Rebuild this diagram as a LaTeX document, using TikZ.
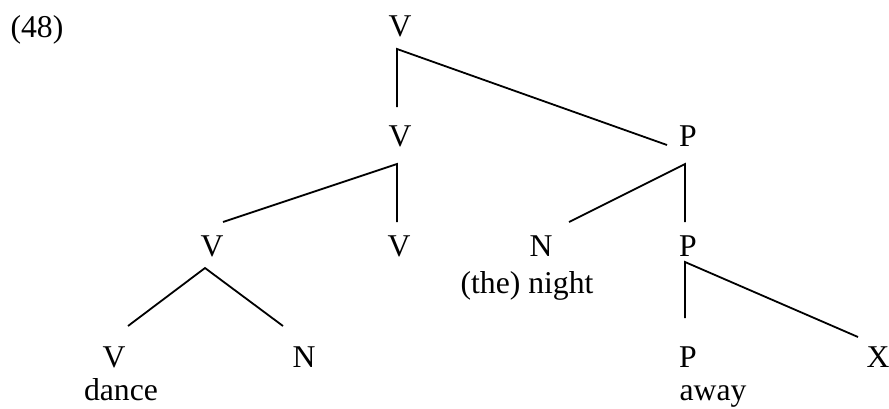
\documentclass[tikz,border=0pt]{standalone}
\usepackage{fontspec}
\setmainfont{Liberation Serif}
\usetikzlibrary{calc}
\begin{document}
\begin{tikzpicture}[x=1pt,y=-1pt,
  lab/.style={anchor=base,inner sep=0pt,font=\fontsize{31.7}{38}\selectfont},
  edge/.style={line width=1.8pt,line cap=butt,line join=miter}]
\useasboundingbox (0,0) rectangle (889,408);
\node[lab] (ex) at (37,37) {(48)};
\node[lab] (v1) at (400,36) {V};
\node[lab] (v2) at (400,146) {V};
\node[lab] (p1) at (688,146) {P};
\node[lab] (v3) at (212,256) {V};
\node[lab] (v4) at (399,256) {V};
\node[lab] (n1) at (541,256) {N};
\node[lab] (p2) at (688,256) {P};
\node[lab] (night) at (527,293) {(the) night};
\node[lab] (v5) at (114,367) {V};
\node[lab] (n2) at (304,367) {N};
\node[lab] (p3) at (688,367) {P};
\node[lab] (x1) at (878,367) {X};
\node[lab] (dance) at (121,400) {dance};
\node[lab] (away) at (713,400) {away};
% connectors
\draw[edge] ($(v2.base)+(-3,-39)$) -- ($(v1.base)+(-3,13)$) -- ($(p1.base)+(-21,-1)$);
\draw[edge] ($(v4.base)+(-2,-34)$) -- ($(v2.base)+(-3,18)$) -- ($(v3.base)+(11,-34)$);
\draw[edge] ($(p2.base)+(-3,-34)$) -- ($(p1.base)+(-3,18)$) -- ($(n1.base)+(28,-34)$);
\draw[edge] ($(v5.base)+(14,-41)$) -- ($(v3.base)+(-7,12)$) -- ($(n2.base)+(-21,-41)$);
\draw[edge] ($(p3.base)+(-3,-49)$) -- ($(p2.base)+(-3,6)$) -- ($(x1.base)+(-20,-30)$);
\end{tikzpicture}
\end{document}
